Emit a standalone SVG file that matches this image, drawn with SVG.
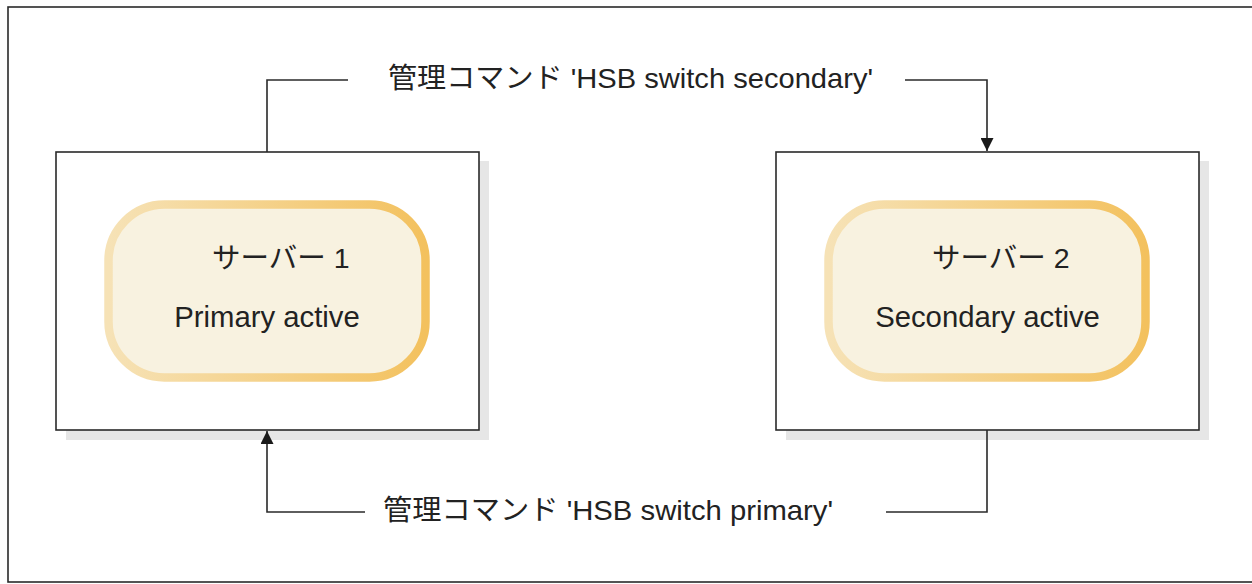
<svg xmlns="http://www.w3.org/2000/svg" width="1252" height="584" viewBox="0 0 1252 584">
<style>
.frame{fill:none;stroke:#2a2a2a;stroke-width:1.6}
.box{fill:#fff;stroke:#2a2a2a;stroke-width:1.6}
.shadow{fill:#e6e6e6}
.pill{fill:#f8f2e0;stroke:url(#pg);stroke-width:8.5}
.conn{fill:none;stroke:#2a2a2a;stroke-width:1.6}
.t{font-family:"Liberation Sans","Noto Sans CJK JP",sans-serif;fill:#222;font-size:28.5px}
.s{font-family:"Liberation Sans","Noto Sans CJK JP",sans-serif;fill:#222;font-size:29.3px}
.lbl{font-family:"Liberation Sans","Noto Sans CJK JP",sans-serif;fill:#222;font-size:28px}
</style>
<defs>
<linearGradient id="pg" x1="0" y1="0" x2="1" y2="0">
<stop offset="0" stop-color="#f6e2b6"/>
<stop offset="1" stop-color="#f3c15e"/>
</linearGradient>
<marker id="ah" viewBox="0 0 13 13" refX="13" refY="6.5" markerWidth="13" markerHeight="13" markerUnits="userSpaceOnUse" orient="auto">
<path d="M0,0 L13,6.5 L0,13 z" fill="#1a1a1a"/>
</marker>
</defs>
<rect class="frame" x="8" y="7" width="1260" height="575"/>
<g id="server1">
<rect class="shadow" x="66" y="161" width="423" height="279"/>
<rect class="box" x="56" y="152" width="423" height="278"/>
<rect class="pill" x="108.5" y="204.5" width="317" height="173" rx="56" ry="56"/>
<text class="t" x="212" y="268">サーバー 1</text>
<text class="s" x="267" y="327" text-anchor="middle">Primary active</text>
</g>
<g id="server2">
<rect class="shadow" x="786" y="161" width="423" height="279"/>
<rect class="box" x="776" y="152" width="423" height="278"/>
<rect class="pill" x="828.5" y="204.5" width="317" height="173" rx="56" ry="56"/>
<text class="t" x="932" y="268">サーバー 2</text>
<text class="s" x="987.5" y="327" text-anchor="middle">Secondary active</text>
</g>
<g id="connectors">
<polyline class="conn" points="267,152 267,80 348,80"/>
<polyline class="conn" points="905,80 987,80 987,151" marker-end="url(#ah)"/>
<polyline class="conn" points="987,430 987,512 886,512"/>
<polyline class="conn" points="365,512 267,512 267,431" marker-end="url(#ah)"/>
<text class="lbl" x="388" y="88" textLength="485" lengthAdjust="spacingAndGlyphs">管理コマンド 'HSB switch secondary'</text>
<text class="lbl" x="383" y="520" textLength="450" lengthAdjust="spacingAndGlyphs">管理コマンド 'HSB switch primary'</text>
</g>
</svg>
